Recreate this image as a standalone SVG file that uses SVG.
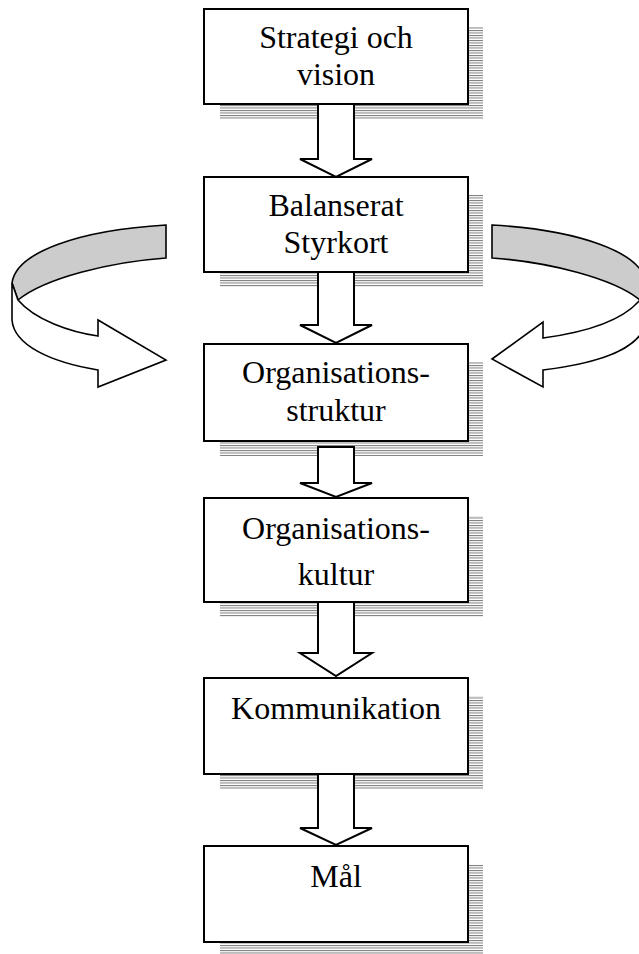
<svg xmlns="http://www.w3.org/2000/svg" width="639" height="954" viewBox="0 0 639 954">
<style>
.box{fill:#fff;stroke:#000;stroke-width:2}
.sh{fill:url(#stripes)}
.arr{fill:#fff;stroke:#000;stroke-width:2;stroke-linejoin:miter}
.cv{stroke:#000;stroke-width:1.6;stroke-linejoin:miter}
text{font-family:"Liberation Serif","Times New Roman",serif;font-size:32px;fill:#000;text-anchor:middle}
</style>
<defs>
<pattern id="stripes" patternUnits="userSpaceOnUse" width="10" height="2.5">
<rect x="0" y="0" width="10" height="1" fill="#7a7a7a"/>
</pattern>
</defs>
<rect width="639" height="954" fill="#fff"/>
<g id="shadows">
<rect class="sh" x="220" y="27" width="263" height="92"/>
<rect class="sh" x="220" y="195" width="263" height="92"/>
<rect class="sh" x="220" y="362" width="263" height="94"/>
<rect class="sh" x="220" y="516" width="263" height="101"/>
<rect class="sh" x="220" y="696" width="263" height="93"/>
<rect class="sh" x="220" y="864" width="263" height="93"/>
</g>
<g id="connectors">
<path class="arr" d="M318,104 L354,104 L354,159 L372,159 L336,177 L300,159 L318,159 Z"/>
<path class="arr" d="M318,272 L354,272 L354,325 L372,325 L336,343 L300,325 L318,325 Z"/>
<path class="arr" d="M318,447 L354,447 L354,483 L372,483 L336,497 L300,483 L318,483 Z"/>
<path class="arr" d="M318,602 L354,602 L354,653 L372,653 L336,676 L300,653 L318,653 Z"/>
<path class="arr" d="M318,774 L354,774 L354,828 L372,828 L336,845 L300,828 L318,828 Z"/>
<g id="loop-left">
<path class="cv" fill="#cccccc" d="M166,225 L166,258 C110,262 45,278 18,300 L12,283 C16,252 80,230 166,225 Z"/>
<path class="cv" fill="#fff" d="M12,283 L18,300 C35,320 70,332 98,336 L98,320 L166,360 L98,387 L98,370 C50,362 14,345 12,320 Z"/>
</g>
<g id="loop-right">
<path class="cv" fill="#cccccc" d="M492,225 L492,258 C548,262 613,278 640,300 L646,283 C642,252 578,230 492,225 Z"/>
<path class="cv" fill="#fff" d="M646,283 L640,300 C623,320 588,332 543,338 L543,322 L492,359 L543,387 L543,370 C608,362 644,345 646,320 Z"/>
</g>
</g>
<g id="n1"><rect class="box" x="204" y="9" width="264" height="95"/><text x="336" y="48">Strategi och</text><text x="336" y="85">vision</text></g>
<g id="n2"><rect class="box" x="204" y="177" width="264" height="95"/><text x="336" y="216">Balanserat</text><text x="336" y="253">Styrkort</text></g>
<g id="n3"><rect class="box" x="204" y="344" width="264" height="97"/><text x="336" y="383">Organisations-</text><text x="336" y="421">struktur</text></g>
<g id="n4"><rect class="box" x="204" y="498" width="264" height="104"/><text x="336" y="539">Organisations-</text><text x="336" y="585">kultur</text></g>
<g id="n5"><rect class="box" x="204" y="678" width="264" height="96"/><text x="336" y="719">Kommunikation</text></g>
<g id="n6"><rect class="box" x="204" y="846" width="264" height="96"/><text x="336" y="887">Mål</text></g>
</svg>
